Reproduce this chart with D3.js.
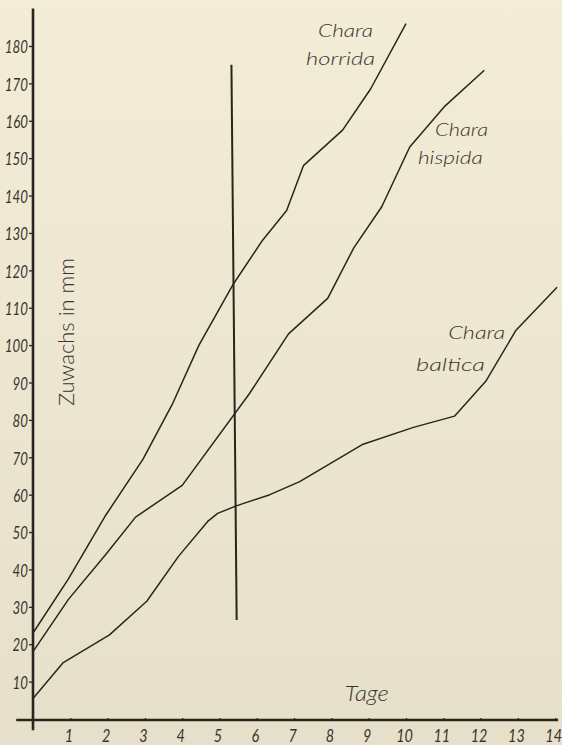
<!DOCTYPE html>
<html><head><meta charset="utf-8">
<script src="https://cdn.jsdelivr.net/npm/d3@7"></script>
<style>
html,body{margin:0;padding:0;background:#efe8d1;}
svg{display:block;}
text{font-family:Lato,"Open Sans","DejaVu Sans",sans-serif;font-style:italic;font-weight:300;fill:#3a332d;}
</style>
</head><body>
<svg id="chart" width="562" height="745"></svg>
<script>
// ---- data ----
const xTickValues = [1,2,3,4,5,6,7,8,9,10,11,12,13,14];
const yTickValues = [10,20,30,40,50,60,70,80,90,100,110,120,130,140,150,160,170,180];

const horridaDays   = [0, 0.95, 1.95, 2.95, 3.75, 4.45, 5.35, 6.15, 6.8, 7.25, 8.3, 9.05, 10.0];
const horridaValues = [23, 37.5, 54.5, 69.5, 84.5, 100, 116, 128, 136, 148, 157.5, 168.5, 186];

const hispidaDays   = [0, 0.95, 1.95, 2.75, 4.0, 5.8, 6.85, 7.9, 8.6, 9.35, 10.1, 11.05, 12.1];
const hispidaValues = [18, 32, 44, 54, 62.5, 87, 103, 112.5, 126, 137, 153, 164, 173.5];

const balticaDays   = [0, 0.8, 2.05, 3.05, 3.9, 4.7, 4.95, 5.45, 6.35, 7.15, 8.85, 10.2, 11.3, 12.15, 12.95, 14.05];
const balticaValues = [5.5, 15, 22.5, 31.5, 43.5, 53, 55, 57, 60, 63.5, 73.5, 78, 81, 90.5, 104, 115.5];

const markerDays   = [5.32, 5.46];
const markerValues = [175, 26.5];

const seriesNames = ["horrida", "hispida", "baltica"];
const genusName = "Chara";
const xTitle = "Tage";
const yTitle = "Zuwachs in mm";

// ---- drawing ----
const svg = d3.select("#chart");
const defs = svg.append("defs");
const grad = defs.append("linearGradient").attr("id","bg").attr("x1",0).attr("y1",0).attr("x2",0).attr("y2",1);
grad.append("stop").attr("offset","0%").attr("stop-color","#f3ecd6");
grad.append("stop").attr("offset","100%").attr("stop-color","#e6e0ca");
svg.append("rect").attr("width",562).attr("height",745).attr("fill","url(#bg)");

const x = d3.scaleLinear().domain([0,14]).range([33, 555.2]);
const y = d3.scaleLinear().domain([0,180]).range([719, 46]);

const ink = "#2b241e";

// axes lines
svg.append("line").attr("x1",x(0)).attr("x2",x(0)).attr("y1",y(190)).attr("y2",y(-3))
  .attr("stroke",ink).attr("stroke-width",2.6);
svg.append("line").attr("x1",x(-0.45)).attr("x2",x(14.08)).attr("y1",y(0)+1).attr("y2",y(0)+1)
  .attr("stroke",ink).attr("stroke-width",2.4);

// y axis
const yAxis = svg.append("g").attr("transform",`translate(${x(0)},0)`)
  .call(d3.axisLeft(y).tickValues(yTickValues).tickSize(4).tickPadding(0).tickFormat(d=>d));
yAxis.select(".domain").remove();
yAxis.selectAll(".tick line").attr("stroke",ink).attr("stroke-width",1.3);
yAxis.selectAll(".tick text")
  .attr("x",null).attr("dy",null)
  .attr("text-anchor","end")
  .attr("dominant-baseline","central")
  .attr("transform","translate(-5,0) scale(0.76,1)")
  .style("font-size","17.5px").style("font-weight","400").attr("fill","#3a332d");

// x axis
const xAxis = svg.append("g").attr("transform",`translate(0,${y(0)+1})`)
  .call(d3.axisTop(x).tickValues(xTickValues).tickSize(2).tickFormat(d=>d));
xAxis.select(".domain").remove();
xAxis.selectAll(".tick line").attr("stroke",ink).attr("stroke-width",1.3);
xAxis.selectAll(".tick text")
  .attr("y",null).attr("dy",null)
  .attr("text-anchor","middle")
  .attr("transform","translate(-2,22) scale(0.8,1)")
  .style("font-size","18px").style("font-weight","400").attr("fill","#3a332d");

// series lines
const line = d3.line().x(d=>x(d[0])).y(d=>y(d[1]));
const series = [
  d3.zip(horridaDays, horridaValues),
  d3.zip(hispidaDays, hispidaValues),
  d3.zip(balticaDays, balticaValues)
];
svg.append("g").selectAll("path").data(series).join("path")
  .attr("d",line).attr("fill","none").attr("stroke",ink).attr("stroke-width",1.5)
  .attr("stroke-linejoin","round");

// vertical marker line
svg.append("path").attr("d", line(d3.zip(markerDays, markerValues)))
  .attr("stroke",ink).attr("stroke-width",2).attr("fill","none");

// series labels (positions in data units)
const labelPos = [
  {t:genusName, dx:7.64, v:182.3, w:55},
  {t:seriesNames[0], dx:7.32, v:174.8, w:69},
  {t:genusName, dx:10.78, v:155.9, w:53},
  {t:seriesNames[1], dx:10.32, v:148.4, w:65},
  {t:genusName, dx:11.13, v:101.6, w:57},
  {t:seriesNames[2], dx:10.27, v:93.2, w:69}
];
svg.append("g").selectAll("text").data(labelPos).join("text")
  .attr("x",d=>x(d.dx)).attr("y",d=>y(d.v))
  .attr("textLength",d=>d.w).attr("lengthAdjust","spacingAndGlyphs")
  .style("font-size","17px").text(d=>d.t);

// axis titles
svg.append("text").attr("x",x(8.36)).attr("y",y(4.8))
  .attr("textLength",44).attr("lengthAdjust","spacingAndGlyphs")
  .style("font-size","22px").text(xTitle);
svg.append("text").attr("transform",`translate(74,${y(103.5)}) rotate(-90)`)
  .attr("text-anchor","middle")
  .attr("textLength",148).attr("lengthAdjust","spacingAndGlyphs")
  .style("font-size","21px").style("font-style","normal").text(yTitle);
</script>
</body></html>
